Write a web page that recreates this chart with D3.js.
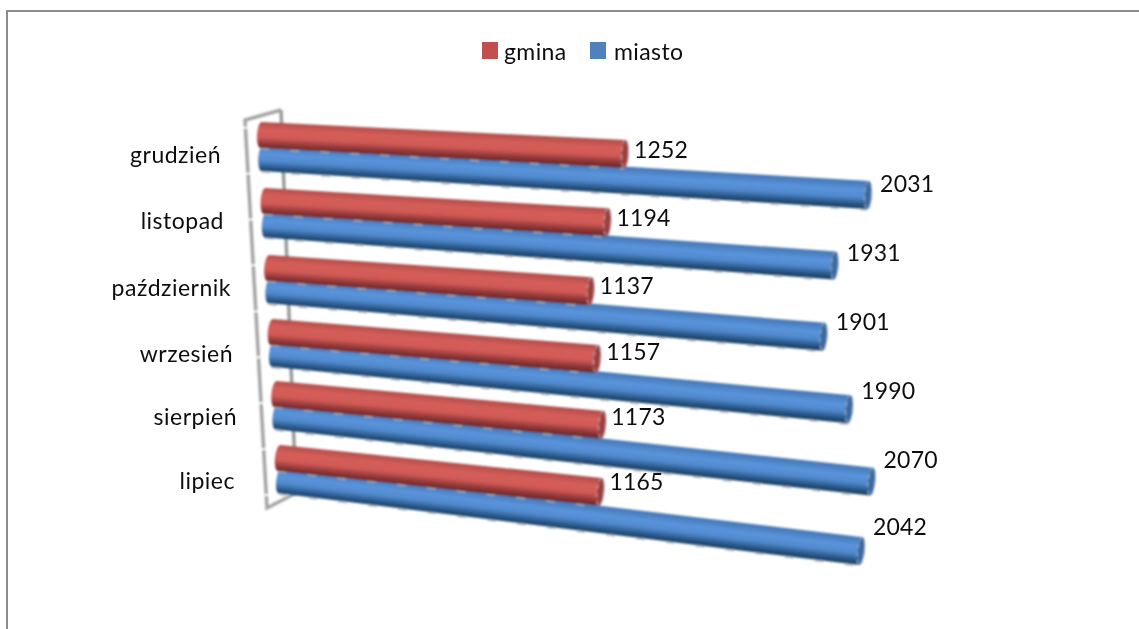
<!DOCTYPE html>
<html>
<head>
<meta charset="utf-8">
<style>
  html, body { margin: 0; padding: 0; background: #fff; }
  svg { display: block; }
  text { font-family: Lato, "Open Sans", sans-serif; fill: #111; }
</style>
<script src="https://cdn.jsdelivr.net/npm/d3@7"></script>
</head>
<body>
<script>
var months = ['lipiec', 'sierpień', 'wrzesień', 'październik', 'listopad', 'grudzień'];
var gmina = [1165, 1173, 1157, 1137, 1194, 1252];
var miasto = [2042, 2070, 1990, 1901, 1931, 2031];
var seriesNames = ['gmina', 'miasto'];
var seriesColors = ['#c0504d', '#4f81bd'];

var width = 1139, height = 629;
var svg = d3.select('body').append('svg').attr('width', width).attr('height', height);
var defs = svg.append('defs');
defs.append('filter').attr('id', 'soft')
  .append('feGaussianBlur').attr('stdDeviation', 0.8);
defs.append('filter').attr('id', 'softText')
  .append('feGaussianBlur').attr('stdDeviation', 0.3);

// chart frame, only top and left edges show in the photo
svg.append('path').attr('d', d3.line()([[7, 629], [7, 11], [1139, 11]]))
  .attr('fill', 'none').attr('stroke', '#8c8c8c').attr('stroke-width', 2);

// the fake 3d: rows run up the wall, values run away to the lower right
var rows = d3.range(6);
var seriesOffset = { gmina: 0, miasto: -0.35 };
var startX = d3.scaleLinear().domain([0, 5]).range([279, 261]);
var startY = d3.scaleLinear().domain(rows).range([458, 394, 332, 268, 201, 135]);
var runX = d3.scaleLinear().domain([-0.35, 5]).range([568, 598]);
var dropY = d3.scaleLinear().domain([-0.35, 5]).range([69, 34]);
var valueX = d3.scalePow().exponent(1.06).domain([0, 2000]).range([0, 1]);
var valueY = d3.scalePow().exponent(1.25).domain([0, 2000]).range([0, 1]);
var labelRight = d3.scaleLinear().domain(rows).range([235, 237, 233, 231, 224, 221]);
var labelY = d3.scaleLinear().domain(rows).range([481, 417, 354, 288, 221, 155]);

function barGeom(i, name, v) {
  var r = i + seriesOffset[name];
  var x0 = startX(r), y0 = startY(r);
  var x1 = x0 + runX(r) * valueX(v), y1 = y0 + dropY(r) * valueY(v);
  return { x0: x0, y0: y0, x1: x1, y1: y1, drop: y1 - y0 };
}

var bars = [];
months.forEach(function (m, i) {
  bars.push({ i: i, name: 'miasto', v: miasto[i], g: barGeom(i, 'miasto', miasto[i]) });
  bars.push({ i: i, name: 'gmina', v: gmina[i], g: barGeom(i, 'gmina', gmina[i]) });
});

// wall behind the bars
var wallBack = [[281, 110], [296, 493]];
var wallFront = [[245, 120], [267, 508]];
var wall = svg.append('g').attr('filter', 'url(#soft)').attr('fill', 'none')
  .attr('stroke', '#a4a4a4').attr('stroke-width', 3.5);
wall.append('path').attr('d', d3.line()([wallBack[0], wallFront[0], wallFront[1], wallBack[1]]))
  .attr('stroke-dasharray', '44 2');
wall.append('path').attr('d', d3.line()(wallBack)).attr('stroke', '#9a9a9a');

var gradStops = {
  gmina: [[0, '#b04a47'], [0.3, '#d65e5a'], [0.58, '#d05a56'], [0.8, '#94393a'], [1, '#642524']],
  miasto: [[0, '#4176b4'], [0.35, '#5b94dc'], [0.6, '#5089cc'], [0.82, '#2b5a8c'], [1, '#183856']]
};

var barG = svg.append('g').attr('filter', 'url(#soft)');
var radius = 13;

// top rows first so lower rows sit over them
bars.slice().sort(function (a, b) { return b.i - a.i; }).forEach(function (b, k) {
  var g = b.g;
  var dx = g.x1 - g.x0, dy = g.y1 - g.y0, len = Math.hypot(dx, dy);
  var nx = -dy / len, ny = dx / len;
  var r0 = radius, r1 = radius + 1;
  var id = 'grad' + k;
  var grad = defs.append('linearGradient').attr('id', id)
    .attr('gradientUnits', 'userSpaceOnUse')
    .attr('x1', g.x1 - nx * r1).attr('y1', g.y1 - ny * r1)
    .attr('x2', g.x1 + nx * r1).attr('y2', g.y1 + ny * r1);
  gradStops[b.name].forEach(function (s) {
    grad.append('stop').attr('offset', s[0]).attr('stop-color', s[1]);
  });
  var angle = Math.atan2(dy, dx) * 180 / Math.PI;
  var d = 'M' + (g.x0 - nx * r0) + ',' + (g.y0 - ny * r0) +
    'L' + (g.x1 - nx * r1) + ',' + (g.y1 - ny * r1) +
    'L' + (g.x1 + nx * r1) + ',' + (g.y1 + ny * r1) +
    'L' + (g.x0 + nx * r0) + ',' + (g.y0 + ny * r0) +
    'A4,' + r0 + ' ' + angle + ' 0 1 ' + (g.x0 - nx * r0) + ',' + (g.y0 - ny * r0) + 'Z';
  barG.append('path').attr('d', d).attr('fill', 'url(#' + id + ')');
  // rough grey dashes the source picture has under each bar
  barG.append('line')
    .attr('x1', g.x0 + nx * (r0 + 0.8)).attr('y1', g.y0 + ny * (r0 + 0.8))
    .attr('x2', g.x1 + nx * (r1 + 0.8)).attr('y2', g.y1 + ny * (r1 + 0.8))
    .attr('stroke', '#a2adb8').attr('stroke-width', 1.5).attr('stroke-dasharray', '9 21');
  // end cap
  barG.append('ellipse')
    .attr('transform', 'translate(' + g.x1 + ',' + g.y1 + ') rotate(' + angle + ')')
    .attr('rx', 3.5).attr('ry', r1)
    .attr('fill', b.name === 'gmina' ? '#a03c3a' : '#3b6aa2')
    .attr('stroke', '#a2adb8').attr('stroke-width', 1).attr('stroke-dasharray', '5 3');
});

var textG = svg.append('g').attr('filter', 'url(#softText)');

// value labels
textG.append('g').selectAll('text').data(bars).enter().append('text')
  .attr('x', function (b) { return b.g.x1 + (b.name === 'gmina' ? 9 : 12); })
  .attr('y', function (b) { return b.g.y0 + b.g.drop * 0.6 + 12; })
  .attr('font-size', 23).attr('letter-spacing', 0.2)
  .text(function (b) { return b.v; });

// month labels
textG.append('g').selectAll('text').data(months).enter().append('text')
  .attr('x', function (d, i) { return labelRight(i); })
  .attr('y', function (d, i) { return labelY(i); })
  .attr('dy', '0.35em').attr('text-anchor', 'end')
  .attr('font-size', 23).attr('letter-spacing', 0.5)
  .text(function (d) { return d; });

// legend
var legendX = d3.scaleOrdinal().domain(seriesNames).range([482, 590]);
var legend = textG.append('g').selectAll('g').data(seriesNames).enter().append('g')
  .attr('transform', function (d) { return 'translate(' + legendX(d) + ',42)'; });
legend.append('rect').attr('width', 16).attr('height', 17)
  .attr('fill', function (d, i) { return seriesColors[i]; });
legend.append('text').attr('x', function (d, i) { return i ? 24 : 22; }).attr('y', 18)
  .attr('font-size', 23).attr('letter-spacing', 0.4)
  .text(function (d) { return d; });
</script>
</body>
</html>
